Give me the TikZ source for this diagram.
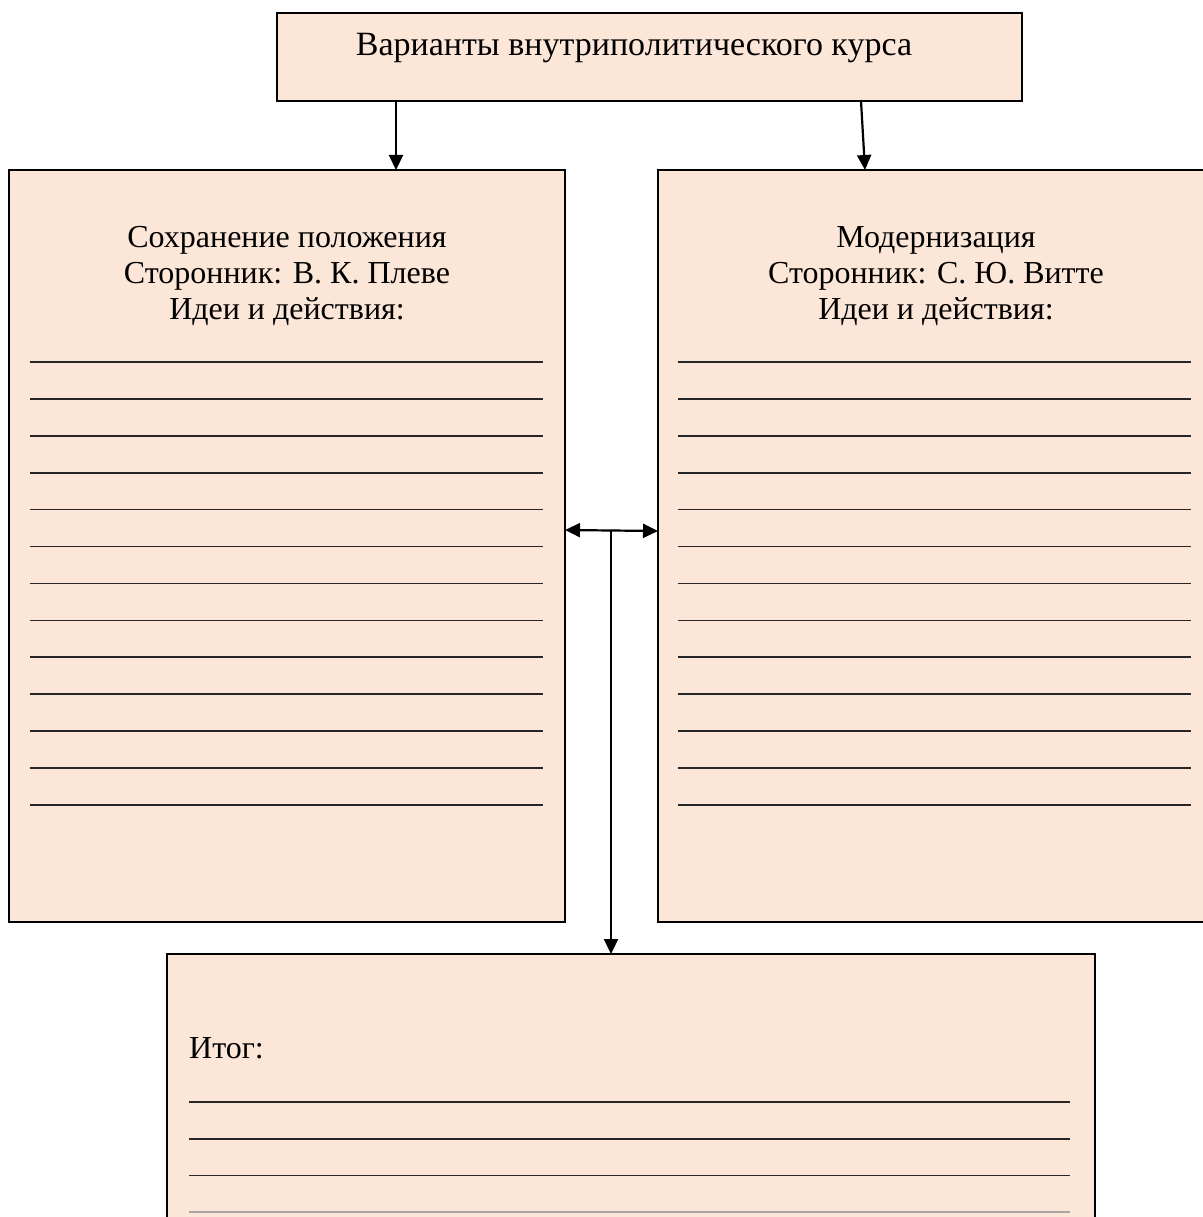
\documentclass[tikz,border=0pt]{standalone}
\usepackage{fontspec}
\setmainfont{Liberation Serif}
\usetikzlibrary{arrows.meta}
\definecolor{boxfill}{HTML}{FBE6D8}
\begin{document}
\begin{tikzpicture}[x=1pt,y=-1pt,
  box/.style={draw=black,line width=1.6pt,fill=boxfill},
  arr/.style={line width=2.2pt,-{Triangle[length=15pt,width=14pt]}},
  darr/.style={line width=2.2pt,{Triangle[length=15pt,width=14pt]}-{Triangle[length=15pt,width=14pt]}},
  rule/.style={line width=1.6pt,black!85},
  txt/.style={font=\fontsize{32}{36}\selectfont,align=center,inner sep=0pt},
  ttxt/.style={font=\fontsize{34}{36}\selectfont,align=center,inner sep=0pt}]
\useasboundingbox (0,0) rectangle (1202,1217);
% boxes
\draw[box] (277,13) rectangle (1022,101);
\node[inner sep=0pt] (top) at (649.5,57) [minimum width=745pt,minimum height=88pt] {};
\node[ttxt] (toptxt) at (634,48) {Варианты внутриполитического курса};
\draw[box] (9,170) rectangle (565,922);
\node[inner sep=0pt,minimum width=556pt,minimum height=752pt] (L) at (287,546) {};
\draw[box] (658,170) rectangle (1210,922);
\node[inner sep=0pt,minimum width=552pt,minimum height=752pt] (R) at (934,546) {};
\draw[box] (167,954) rectangle (1095,1230);
\node[inner sep=0pt,minimum width=928pt,minimum height=276pt] (B) at (631,1092) {};
% texts
\node[txt] (Ltxt) at (287,276) {Сохранение положения\\Сторонник: В. К. Плеве\\Идеи и действия:};
\node[txt] (Rtxt) at (936,276) {Модернизация\\Сторонник: С. Ю. Витте\\Идеи и действия:};
\node[txt,anchor=west] (Btxt) at (189,1048) {Итог:};
% rules
\foreach \i in {0,...,12}{
  \draw[rule] (30,362+36.9*\i) -- (543,362+36.9*\i);
  \draw[rule] (678,362+36.9*\i) -- (1191,362+36.9*\i);
}
\foreach \i in {0,1,2}{
  \draw[rule] (189,1102+36.8*\i) -- (1070,1102+36.8*\i);
}
\draw[line width=1.3pt,black!35] (189,1212) -- (1070,1212);
% connectors
\coordinate (a1) at (396,101);
\coordinate (a2) at (396,170);
\coordinate (b1) at (861,101);
\coordinate (b2) at (865,170);
\coordinate (m) at (611,531);
\coordinate (mL) at (565,530);
\coordinate (mR) at (658,531);
\coordinate (mB) at (611,954);
\draw[arr] (a1) -- (a2);
\draw[arr] (b1) -- (b2);
\draw[darr] (mL) -- (mR);
\draw[arr] (m) -- (mB);
\end{tikzpicture}
\end{document}
